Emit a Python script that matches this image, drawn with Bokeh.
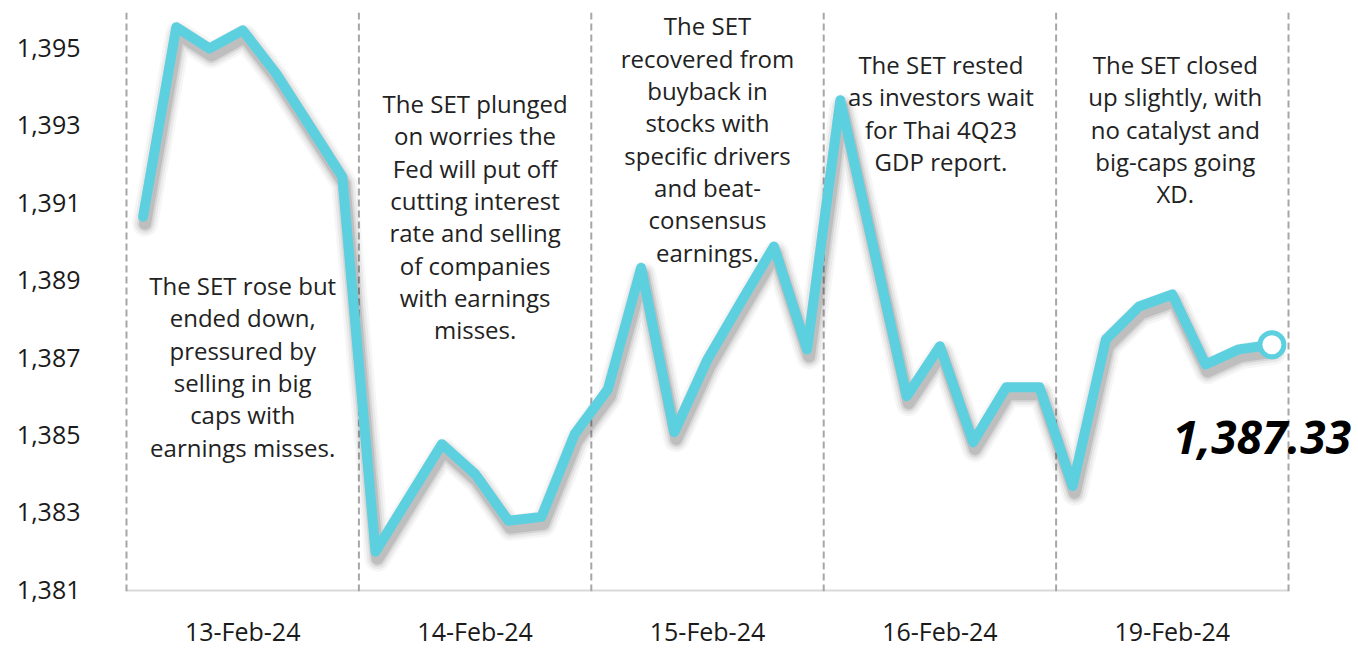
import numpy as np
from bokeh.plotting import figure
from bokeh.models import (Range1d, FixedTicker, NumeralTickFormatter, Label)
from bokeh.core.properties import value
from bokeh.embed import file_html
from bokeh.resources import INLINE

# ---------------- data ----------------
days = ["13-Feb-24", "14-Feb-24", "15-Feb-24", "16-Feb-24", "19-Feb-24"]
set_13feb = [1390.64, 1395.54, 1394.99, 1395.46, 1394.35, 1393.01, 1391.67]
set_14feb = [1381.98, 1383.37, 1384.76, 1383.99, 1382.78, 1382.88, 1385.02]
set_15feb = [1386.18, 1389.32, 1385.07, 1386.95, 1388.42, 1389.87, 1387.21]
set_16feb = [1393.65, 1389.84, 1386.00, 1387.29, 1384.81, 1386.23, 1386.23]
set_19feb = [1383.68, 1387.47, 1388.32, 1388.63, 1386.82, 1387.21, 1387.33]
y_ticks = [1381, 1383, 1385, 1387, 1389, 1391, 1393, 1395]
notes = [
    "The SET rose but\nended down,\npressured by\nselling in big\ncaps with\nearnings misses.",
    "The SET plunged\non worries the\nFed will put off\ncutting interest\nrate and selling\nof companies\nwith earnings\nmisses.",
    "The SET\nrecovered from\nbuyback in\nstocks with\nspecific drivers\nand beat-\nconsensus\nearnings.",
    "The SET rested\nas investors wait\nfor Thai 4Q23\nGDP report.",
    "The SET closed\nup slightly, with\nno catalyst and\nbig-caps going\nXD.",
]

# ---------------- layout / style ----------------
FONT = "Open Sans"
CYAN = "#5dd0e0"
W, H = 1358, 650
BL, BR, BT, BB = 124, 0, 12, 57
FRAME_W = W - BL - BR
FRAME_H = H - BT - BB
X0, X1 = -0.06, 37.108
Y0, Y1 = 1380.95, 1395.92
PX_X = FRAME_W / (X1 - X0)
PX_Y = FRAME_H / (Y1 - Y0)
FRAME_BOTTOM = H - BB

series = [set_13feb, set_14feb, set_15feb, set_16feb, set_19feb]
per_day = len(set_13feb)
vals = np.concatenate([np.array(s, dtype=float) for s in series])
xs = np.arange(len(vals)) + 0.5
bounds = np.arange(len(days) + 1) * per_day
centers = (np.arange(len(days)) + 0.5) * per_day

p = figure(width=W, height=H, output_backend="svg", toolbar_location=None,
           x_range=Range1d(X0, X1), y_range=Range1d(Y0, Y1),
           min_border_left=BL, min_border_right=BR,
           min_border_top=BT, min_border_bottom=BB)
p.outline_line_color = None
p.xgrid.visible = False
p.ygrid.visible = False
p.background_fill_color = "white"

# y axis
p.yaxis.ticker = FixedTicker(ticks=y_ticks)
p.yaxis.formatter = NumeralTickFormatter(format="0,0")
p.yaxis.axis_line_color = None
p.yaxis.major_tick_line_color = None
p.yaxis.minor_tick_line_color = None
p.yaxis.major_tick_out = 0
p.yaxis.major_tick_in = 0
p.yaxis.major_label_standoff = 44
p.yaxis.major_label_text_font = FONT
p.yaxis.major_label_text_font_size = "25px"
p.yaxis.major_label_text_color = "#1a1a1a"

# x axis: day labels centred in each day block
p.xaxis.ticker = FixedTicker(ticks=list(centers))
p.xaxis.major_label_overrides = {float(c): d for c, d in zip(centers, days)}
p.xaxis.axis_line_color = None
p.xaxis.major_tick_line_color = None
p.xaxis.minor_tick_line_color = None
p.xaxis.major_tick_out = 0
p.xaxis.major_tick_in = 0
p.xaxis.major_label_standoff = 22
p.xaxis.major_label_text_font = FONT
p.xaxis.major_label_text_font_size = "25px"
p.xaxis.major_label_text_color = "#1a1a1a"

# baseline under the day blocks
p.segment(x0=[bounds[0]], y0=[Y0], x1=[bounds[-1]], y1=[Y0],
          line_color="#d9d9d9", line_width=4)

# day separators
p.segment(x0=bounds, y0=[Y0] * len(bounds), x1=bounds, y1=[Y1] * len(bounds),
          line_color="#a6a6a6", line_width=2, line_dash="7 4")

# notes
note_y_px = [367, 217, 139, 113, 129]  # screen rows of block centres
note_x_px = [0, 0, 0, 1, 3]
note_y = [Y0 + (FRAME_BOTTOM - v) / PX_Y for v in note_y_px]
note_x = [c + d / PX_X for c, d in zip(centers, note_x_px)]
p.text(x=note_x, y=note_y, text=notes, text_align="center",
       text_baseline="middle", text_font=value(FONT),
       text_font_size="24px", text_line_height=0.98, text_color="#222222")

# soft drop shadow of the line
dx, dy = 2 / PX_X, -7 / PX_Y
for w, a in [(26, 0.035), (21, 0.05), (16, 0.08), (12, 0.11)]:
    p.line(xs + dx, vals + dy, line_color="black", line_alpha=a,
           line_width=w, line_join="round", line_cap="round")

# main line
p.line(xs, vals, line_color=CYAN, line_width=10, line_join="round",
       line_cap="round")
p.scatter(x=[xs[-1]], y=[vals[-1]], size=24, fill_color="white",
          line_color=CYAN, line_width=5)

p.add_layout(Label(x=float(xs[-1]), y=float(vals[-1]), text=f"{vals[-1]:,.2f}",
                   x_offset=-10, y_offset=-93, text_align="center",
                   text_baseline="middle", text_font=FONT,
                   text_font_style="bold italic", text_font_size="46px",
                   text_color="black"))

open("out.html", "w").write(file_html(p, INLINE))
